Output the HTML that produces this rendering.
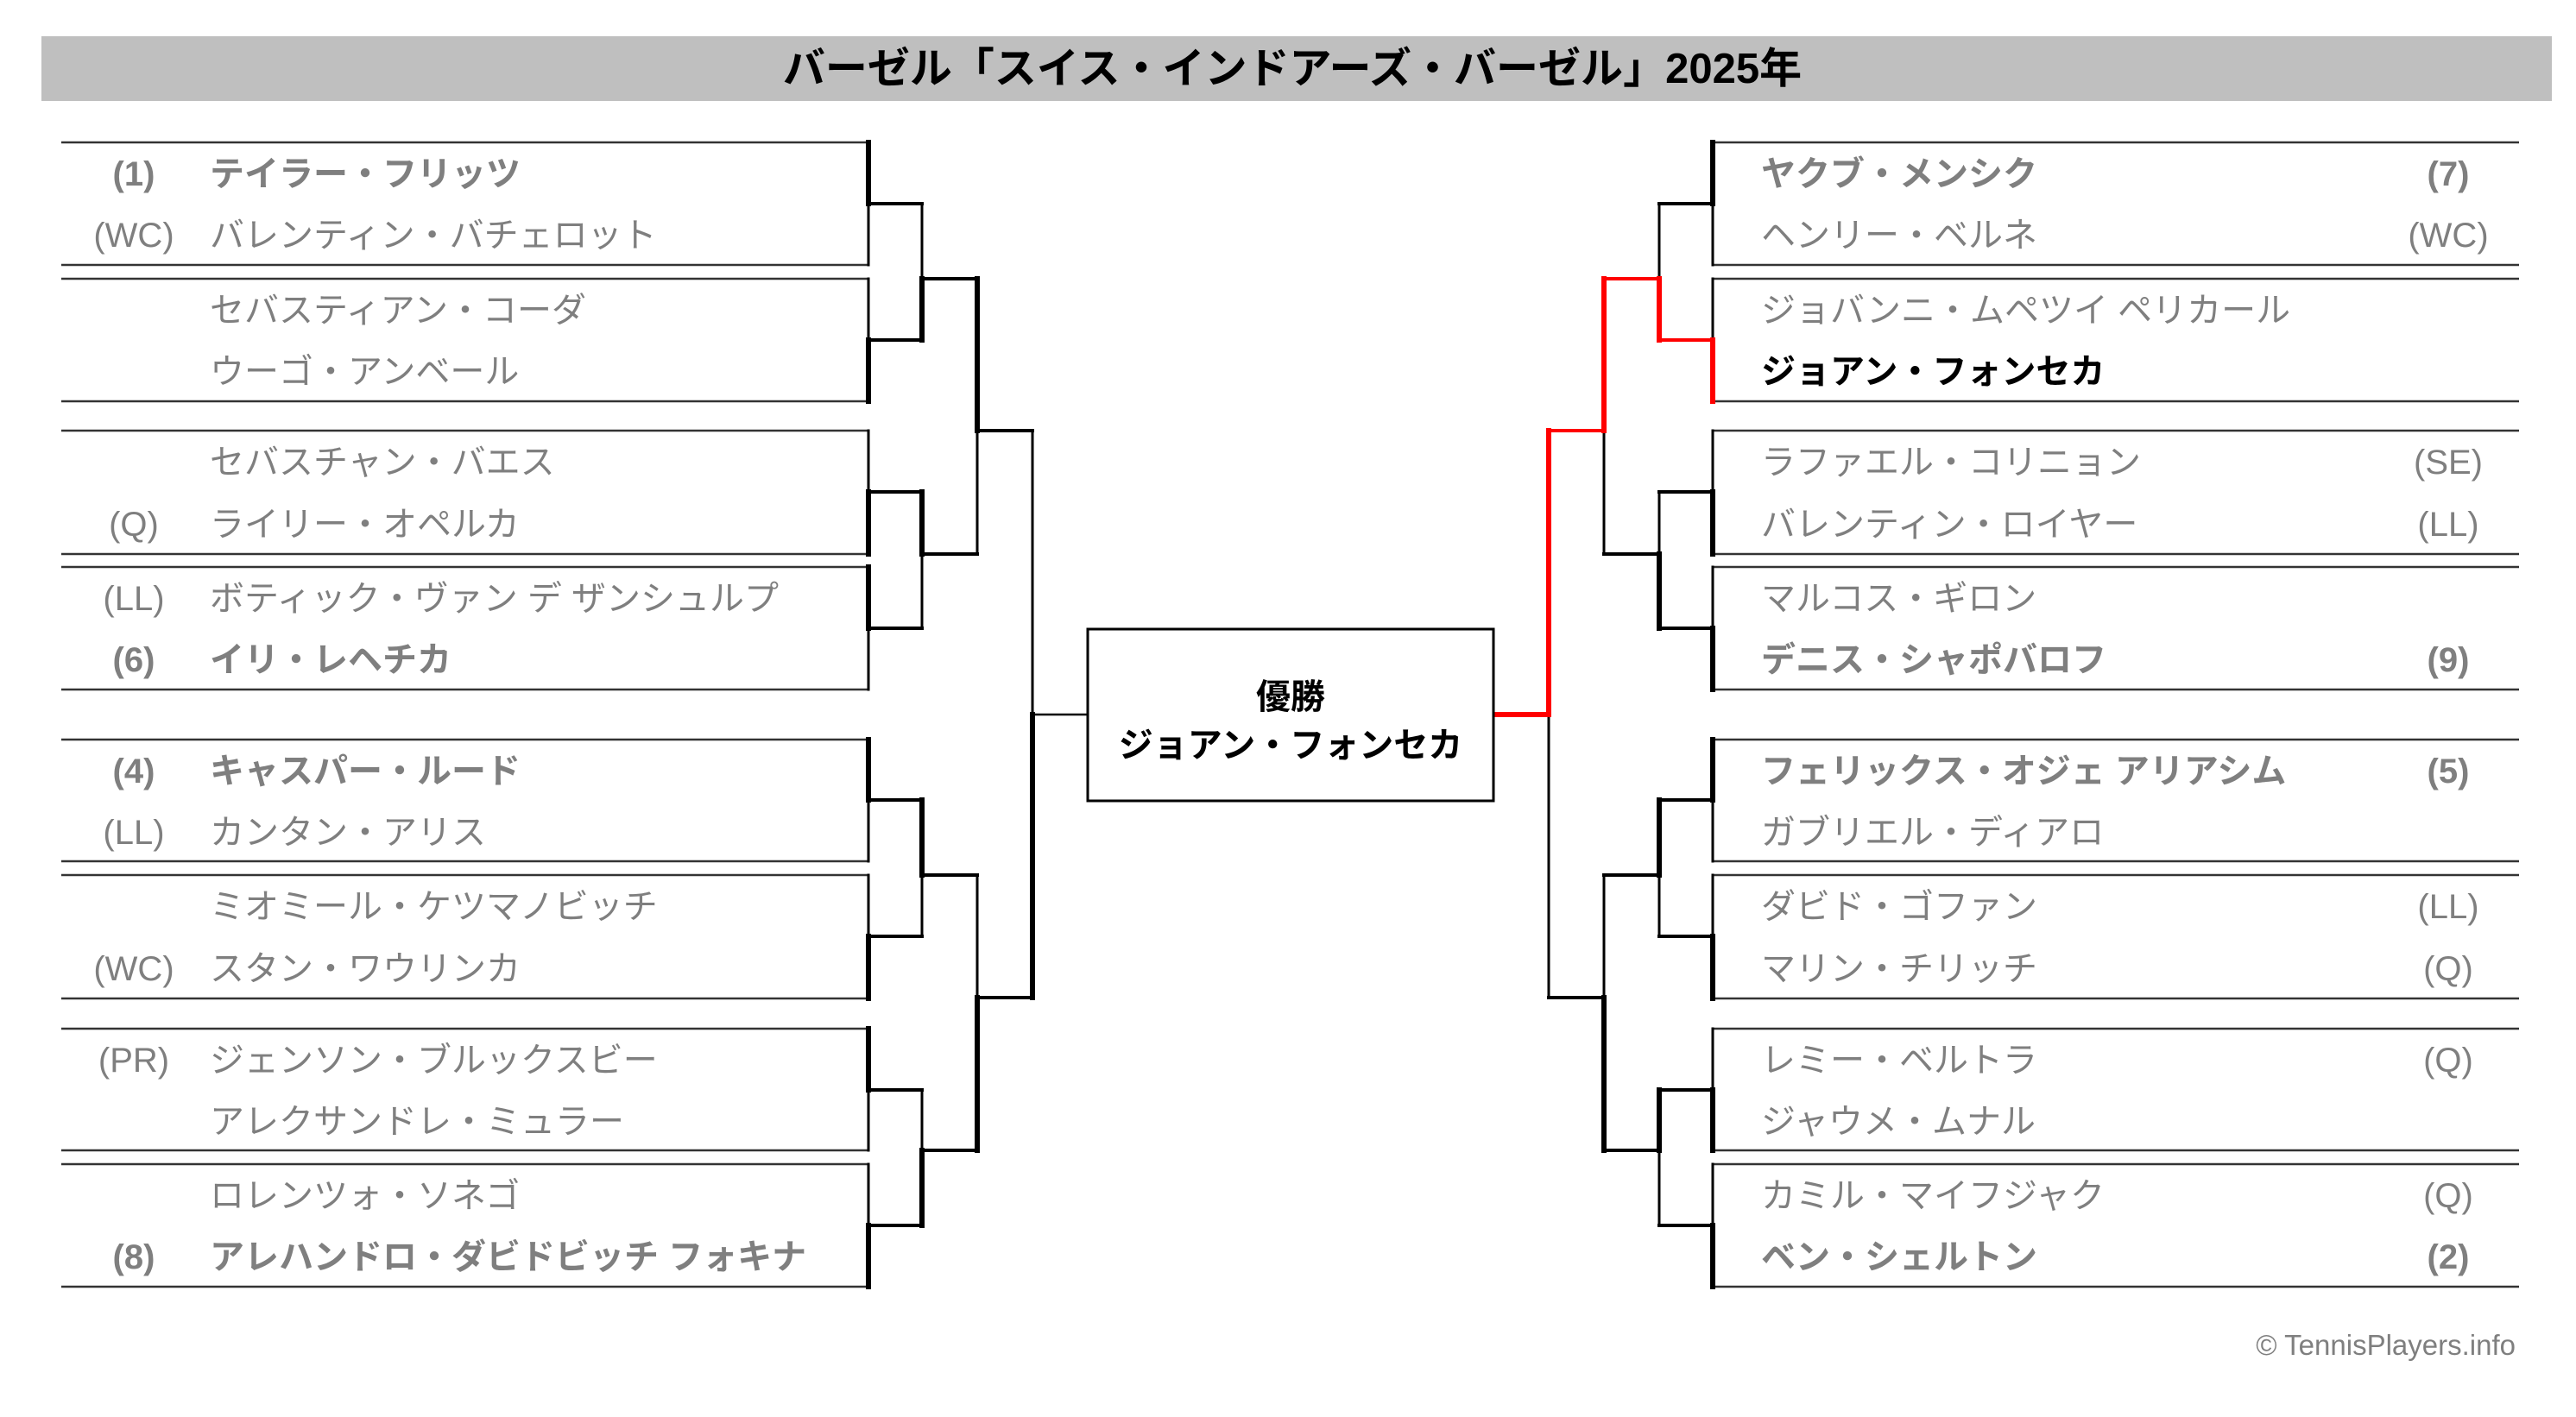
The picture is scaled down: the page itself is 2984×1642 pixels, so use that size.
<!DOCTYPE html>
<html><head><meta charset="utf-8"><style>
html,body{margin:0;padding:0;background:#fff;}
svg{display:block}
text{font-family:"Liberation Sans","Noto Sans CJK JP",sans-serif;}
.n{font-size:40px;fill:#7f7f7f}
.b{font-weight:bold}
.s{font-size:40px;fill:#7f7f7f;text-anchor:middle}
</style></head><body>
<svg width="2984" height="1642" viewBox="0 0 2984 1642" xmlns="http://www.w3.org/2000/svg">
<rect x="48" y="42" width="2908" height="75" fill="#bfbfbf"/>
<text x="1497" y="96" font-size="49" font-weight="bold" text-anchor="middle" fill="#000">バーゼル「スイス・インドアーズ・バーゼル」2025年</text>

<g stroke="#333" stroke-width="2.5" fill="none">
<path d="M71 165H1006M71 307H1006M71 323H1006M71 465H1006M71 499H1006M71 642H1006M71 657H1006M71 799H1006M71 857H1006M71 998H1006M71 1014H1006M71 1157H1006M71 1192H1006M71 1333H1006M71 1349H1006M71 1491H1006"/>
<path d="M1984 165H2918M1984 307H2918M1984 323H2918M1984 465H2918M1984 499H2918M1984 642H2918M1984 657H2918M1984 799H2918M1984 857H2918M1984 998H2918M1984 1014H2918M1984 1157H2918M1984 1192H2918M1984 1333H2918M1984 1349H2918M1984 1491H2918"/>
</g>

<g stroke="#000" fill="none" stroke-linecap="square">
<!-- LEFT -->
<path stroke-width="6" d="M1006 165V236M1006 394V465M1006 570V642M1006 657V728M1006 857V927M1006 1085V1157M1006 1192V1263M1006 1420V1491"/>
<path stroke-width="3" d="M1006 236V307M1006 323V394M1006 499V570M1006 728V799M1006 927V998M1006 1014V1085M1006 1263V1333M1006 1349V1420"/>
<path stroke-width="4" d="M1006 236H1068M1006 394H1068M1006 570H1068M1006 728H1068M1006 927H1068M1006 1085H1068M1006 1263H1068M1006 1420H1068"/>
<path stroke-width="6" d="M1068 323V394M1068 570V642M1068 927V1014M1068 1333V1420"/>
<path stroke-width="3" d="M1068 236V323M1068 642V728M1068 1014V1085M1068 1263V1333"/>
<path stroke-width="4" d="M1068 323H1132M1068 642H1132M1068 1014H1132M1068 1333H1132"/>
<path stroke-width="6" d="M1132 323V499M1132 1156V1333"/>
<path stroke-width="3" d="M1132 499V642M1132 1014V1156"/>
<path stroke-width="4" d="M1132 499H1196M1132 1156H1196"/>
<path stroke-width="6" d="M1196 828V1156"/>
<path stroke-width="3" d="M1196 499V828"/>
<path stroke-width="2.5" d="M1196 828H1260"/>

<!-- RIGHT -->
<path stroke-width="6" d="M1984 165V236M1984 570V642M1984 728V799M1984 857V927M1984 1085V1157M1984 1263V1333M1984 1420V1491"/>
<path stroke-width="3" d="M1984 236V307M1984 323V394M1984 499V570M1984 657V728M1984 927V998M1984 1014V1085M1984 1192V1263M1984 1349V1420"/>
<path stroke-width="4" d="M1984 236H1922M1984 570H1922M1984 728H1922M1984 927H1922M1984 1085H1922M1984 1263H1922M1984 1420H1922"/>
<path stroke-width="6" d="M1922 642V728M1922 927V1014M1922 1263V1333"/>
<path stroke-width="3" d="M1922 236V323M1922 570V642M1922 1014V1085M1922 1333V1420"/>
<path stroke-width="4" d="M1922 642H1858M1922 1014H1858M1922 1333H1858"/>
<path stroke-width="6" d="M1858 1156V1333"/>
<path stroke-width="3" d="M1858 499V642M1858 1014V1156"/>
<path stroke-width="4" d="M1858 1156H1794"/>
<path stroke-width="3" d="M1794 828V1156"/>
</g>
<g stroke="#ff0000" fill="none" stroke-linecap="square">
<path stroke-width="6" d="M1984 394V465M1922 323V394M1858 323V499M1794 499V828"/>
<path stroke-width="4" d="M1984 394H1922M1922 323H1858M1858 499H1794"/>
<path stroke-width="6" d="M1794 828H1733"/>
</g>

<rect x="1260" y="729" width="470" height="199" fill="#fff" stroke="#000" stroke-width="3"/>
<text x="1495" y="821" font-size="40" font-weight="bold" text-anchor="middle" fill="#000">優勝</text>
<text x="1495" y="877" font-size="40" font-weight="bold" text-anchor="middle" fill="#000">ジョアン・フォンセカ</text>

<g>
<text class="s b" x="155" y="215">(1)</text><text class="n b" x="243" y="215">テイラー・フリッツ</text>
<text class="s" x="155" y="286">(WC)</text><text class="n" x="243" y="286">バレンティン・バチェロット</text>
<text class="n" x="243" y="373">セバスティアン・コーダ</text>
<text class="n" x="243" y="444">ウーゴ・アンベール</text>
<text class="n" x="243" y="549">セバスチャン・バエス</text>
<text class="s" x="155" y="621">(Q)</text><text class="n" x="243" y="621">ライリー・オペルカ</text>
<text class="s" x="155" y="707">(LL)</text><text class="n" x="243" y="707">ボティック・ヴァン デ ザンシュルプ</text>
<text class="s b" x="155" y="778">(6)</text><text class="n b" x="243" y="778">イリ・レヘチカ</text>
<text class="s b" x="155" y="907">(4)</text><text class="n b" x="243" y="907">キャスパー・ルード</text>
<text class="s" x="155" y="978">(LL)</text><text class="n" x="243" y="978">カンタン・アリス</text>
<text class="n" x="243" y="1064">ミオミール・ケツマノビッチ</text>
<text class="s" x="155" y="1136">(WC)</text><text class="n" x="243" y="1136">スタン・ワウリンカ</text>
<text class="s" x="155" y="1242">(PR)</text><text class="n" x="243" y="1242">ジェンソン・ブルックスビー</text>
<text class="n" x="243" y="1313">アレクサンドレ・ミュラー</text>
<text class="n" x="243" y="1399">ロレンツォ・ソネゴ</text>
<text class="s b" x="155" y="1470">(8)</text><text class="n b" x="243" y="1470">アレハンドロ・ダビドビッチ フォキナ</text>
</g>
<g>
<text class="n b" x="2040" y="215">ヤクブ・メンシク</text><text class="s b" x="2836" y="215">(7)</text>
<text class="n" x="2040" y="286">ヘンリー・ベルネ</text><text class="s" x="2836" y="286">(WC)</text>
<text class="n" x="2040" y="373">ジョバンニ・ムペツイ ペリカール</text>
<text class="n b" x="2040" y="444" style="fill:#000">ジョアン・フォンセカ</text>
<text class="n" x="2040" y="549">ラファエル・コリニョン</text><text class="s" x="2836" y="549">(SE)</text>
<text class="n" x="2040" y="621">バレンティン・ロイヤー</text><text class="s" x="2836" y="621">(LL)</text>
<text class="n" x="2040" y="707">マルコス・ギロン</text>
<text class="n b" x="2040" y="778">デニス・シャポバロフ</text><text class="s b" x="2836" y="778">(9)</text>
<text class="n b" x="2040" y="907">フェリックス・オジェ アリアシム</text><text class="s b" x="2836" y="907">(5)</text>
<text class="n" x="2040" y="978">ガブリエル・ディアロ</text>
<text class="n" x="2040" y="1064">ダビド・ゴファン</text><text class="s" x="2836" y="1064">(LL)</text>
<text class="n" x="2040" y="1136">マリン・チリッチ</text><text class="s" x="2836" y="1136">(Q)</text>
<text class="n" x="2040" y="1242">レミー・ベルトラ</text><text class="s" x="2836" y="1242">(Q)</text>
<text class="n" x="2040" y="1313">ジャウメ・ムナル</text>
<text class="n" x="2040" y="1399">カミル・マイフジャク</text><text class="s" x="2836" y="1399">(Q)</text>
<text class="n b" x="2040" y="1470">ベン・シェルトン</text><text class="s b" x="2836" y="1470">(2)</text>
</g>

<text x="2914" y="1570" font-size="33" text-anchor="end" fill="#7f7f7f">© TennisPlayers.info</text>
</svg>
</body></html>
